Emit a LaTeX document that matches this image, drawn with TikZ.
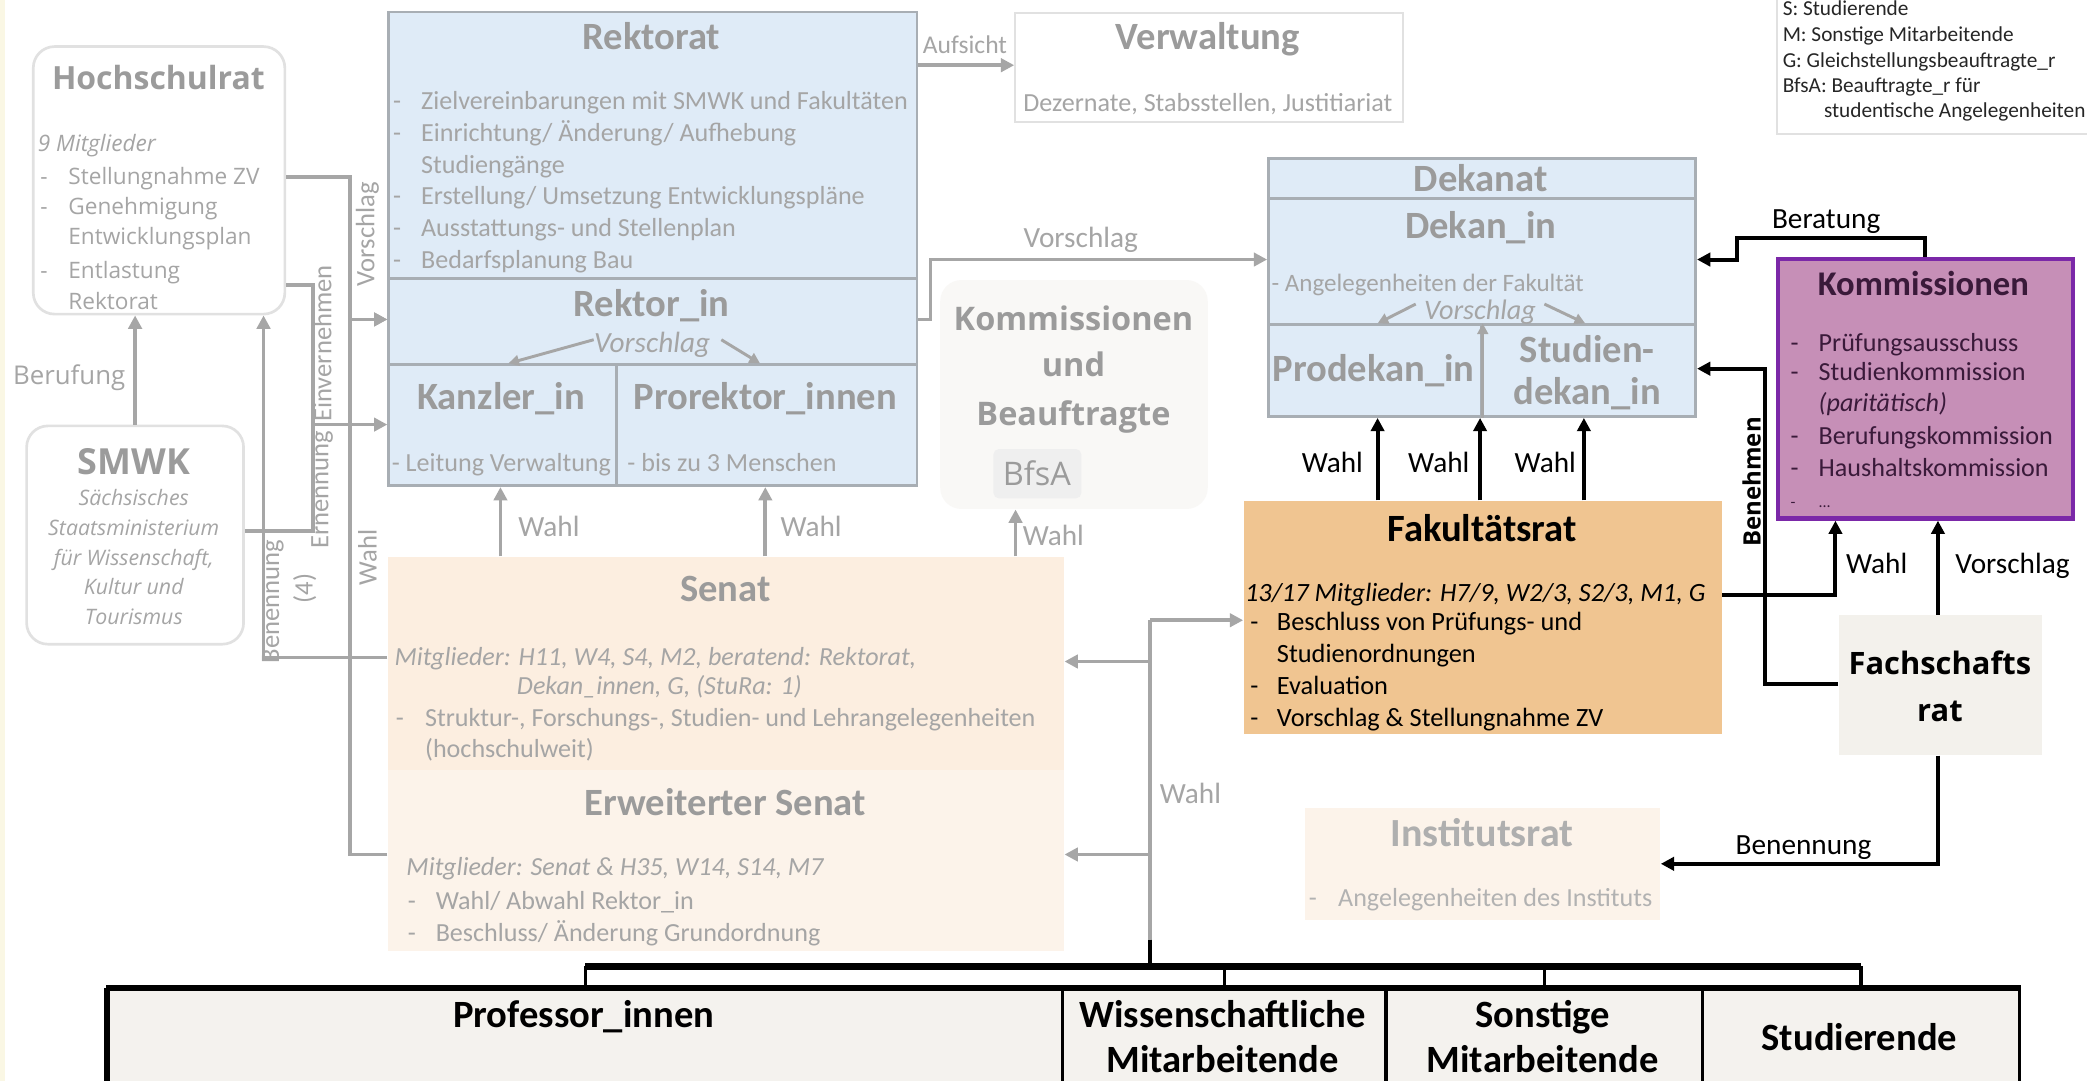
\documentclass[tikz,border=0pt]{standalone}
\usepackage{fontspec}
\setmainfont{Carlito}
\newfontfamily\osans{Open Sans}
\usetikzlibrary{arrows.meta}
\definecolor{lblue}{RGB}{223,235,247}
\definecolor{bord}{RGB}{168,174,180}
\definecolor{gline}{RGB}{166,166,166}
\definecolor{gtitle}{RGB}{155,155,155}
\definecolor{gtext}{RGB}{165,165,165}
\definecolor{senat}{RGB}{252,238,224}
\definecolor{esenat}{RGB}{252,243,234}
\definecolor{fak}{RGB}{240,197,145}
\definecolor{kfill}{RGB}{198,143,183}
\definecolor{kbord}{RGB}{123,40,168}
\definecolor{ktext}{RGB}{58,26,58}
\definecolor{fsrc}{RGB}{243,241,236}
\definecolor{tabc}{RGB}{244,242,238}
\definecolor{cream}{RGB}{250,247,228}
\definecolor{lgbord}{RGB}{225,225,225}
\definecolor{kubc}{RGB}{249,248,246}
\definecolor{bfsac}{RGB}{239,239,239}
\definecolor{legtext}{RGB}{38,38,38}
\newcommand\ttlfont{\bfseries\fontsize{14.5}{17}\selectfont}
\newcommand\bdfont{\fontsize{9.8}{12}\selectfont}
\newcommand\lblfont{\fontsize{11}{13}\selectfont}
\newcommand\rotfont{\fontsize{10}{12}\selectfont}
\newcommand\dsh[1]{\makebox[#1][l]{-}}
\begin{document}
\begin{tikzpicture}[x=0.5pt,y=-0.5pt,
  bx/.style={draw=bord, line width=1pt, fill=lblue, inner sep=0pt, anchor=north west},
  rbx/.style={draw=lgbord, line width=1pt, fill=white, rounded corners=8pt, inner sep=0pt, anchor=north west},
  plainbx/.style={inner sep=0pt, anchor=north west},
  ttl/.style={font=\ttlfont, text=gtitle, inner sep=0pt, anchor=base},
  bd/.style={font=\bdfont, text=gtext, inner sep=0pt, anchor=base west},
  lbl/.style={font=\lblfont, text=gtext, inner sep=0pt, anchor=base},
  blbl/.style={font=\lblfont, text=black, inner sep=0pt, anchor=base},
  rot/.style={font=\rotfont, text=gtext, inner sep=0pt, rotate=90, anchor=center},
  gl/.style={draw=gline, line width=1.4pt},
  garr/.style={draw=gline, line width=1.4pt, -{Triangle[length=5pt,width=5pt]}},
  garrs/.style={draw=gline, line width=1.1pt, -{Triangle[length=4pt,width=4pt]}},
  barr/.style={draw=black, line width=1.5pt, -{Triangle[length=5pt,width=5pt]}},
  bl/.style={draw=black, line width=1.3pt},
  busline/.style={draw=black, line width=2.6pt},
  cell/.style={draw=black, line width=1.3pt, fill=tabc, inner sep=0pt, anchor=north west},
  tbl/.style={font=\ttlfont, text=black, inner sep=0pt, anchor=base},
]
\useasboundingbox (0,0) rectangle (1568,812);
\fill[white] (0,0) rectangle (1568,812);
\fill[cream] (0,0) rectangle (4,812);

% ---------------- Hochschulrat ----------------
\node[rbx, minimum width=94.5pt, minimum height=100.5pt] (hsr) at (24,34) {};
\node[font=\osans\bfseries\fontsize{12}{14}\selectfont, text=gtitle, inner sep=0pt, anchor=base] (hsrt) at (119,67.5) {Hochschulrat};
\node[font=\osans\itshape\fontsize{8.5}{11}\selectfont, text=gtext, inner sep=0pt, anchor=base west] (hsr0) at (28,114) {9 Mitglieder};
\node[font=\osans\fontsize{8.5}{11}\selectfont, text=gtext, inner sep=0pt, anchor=base west] (hsr1) at (30,138.5) {\dsh{10.5pt}Stellungnahme ZV};
\node[font=\osans\fontsize{8.5}{11}\selectfont, text=gtext, inner sep=0pt, anchor=base west] (hsr2) at (30,161.5) {\dsh{10.5pt}Genehmigung};
\node[font=\osans\fontsize{8.5}{11}\selectfont, text=gtext, inner sep=0pt, anchor=base west] (hsr3) at (51,183.5) {Entwicklungsplan};
\node[font=\osans\fontsize{8.5}{11}\selectfont, text=gtext, inner sep=0pt, anchor=base west] (hsr4) at (30,209.5) {\dsh{10.5pt}Entlastung};
\node[font=\osans\fontsize{8.5}{11}\selectfont, text=gtext, inner sep=0pt, anchor=base west] (hsr5) at (51,232.5) {Rektorat};

% ---------------- SMWK ----------------
\node[rbx, minimum width=81.5pt, minimum height=82pt] (smwk) at (19,319) {};
\node[font=\osans\bfseries\fontsize{13.5}{15}\selectfont, text=gtitle, inner sep=0pt, anchor=base] (smwkt) at (100.5,356.5) {SMWK};
\node[font=\osans\itshape\fontsize{8}{10}\selectfont, text=gtext, inner sep=0pt, anchor=base] (sm1) at (100.5,380) {Sächsisches};
\node[font=\osans\itshape\fontsize{8}{10}\selectfont, text=gtext, inner sep=0pt, anchor=base] (sm2) at (100.5,402) {Staatsministerium};
\node[font=\osans\itshape\fontsize{8}{10}\selectfont, text=gtext, inner sep=0pt, anchor=base] (sm3) at (100.5,425) {für Wissenschaft,};
\node[font=\osans\itshape\fontsize{8}{10}\selectfont, text=gtext, inner sep=0pt, anchor=base] (sm4) at (100.5,447) {Kultur und};
\node[font=\osans\itshape\fontsize{8}{10}\selectfont, text=gtext, inner sep=0pt, anchor=base] (sm5) at (100.5,469) {Tourismus};
\node[font=\osans\fontsize{9.7}{12}\selectfont, text=gtext, inner sep=0pt, anchor=base] (beruf) at (52,289) {Berufung};

% ---------------- Rektorat ----------------
\node[bx, minimum width=198.5pt, minimum height=100pt] (rektorat) at (291,8) {};
\node[bx, minimum width=198.5pt, minimum height=32.5pt] (rektorin) at (291,208) {};
\node[bx, minimum width=85.5pt, minimum height=45.5pt] (kanzler) at (291,273) {};
\node[bx, minimum width=113pt, minimum height=45.5pt] (prorektor) at (462,273) {};
\node[ttl] (rkt) at (489.5,37) {Rektorat};
\node[bd] (rk1) at (295,82) {\dsh{10.5pt}Zielvereinbarungen mit SMWK und Fakultäten};
\node[bd] (rk2) at (295,106) {\dsh{10.5pt}Einrichtung/ Änderung/ Aufhebung};
\node[bd] (rk3) at (316,130) {Studiengänge};
\node[bd] (rk4) at (295,154) {\dsh{10.5pt}Erstellung/ Umsetzung Entwicklungspläne};
\node[bd] (rk5) at (295,178) {\dsh{10.5pt}Ausstattungs- und Stellenplan};
\node[bd] (rk6) at (295,202) {\dsh{10.5pt}Bedarfsplanung Bau};
\node[ttl] (rit) at (489.5,238) {Rektor\_in};
\node[lbl, font=\itshape\fontsize{11}{13}\selectfont] (rivor) at (490,265) {Vorschlag};
\node[ttl] (kat) at (376.5,308) {Kanzler\_in};
\node[ttl] (prt) at (575,308) {Prorektor\_innen};
\node[bd] (ka1) at (294,354) {- Leitung Verwaltung};
\node[bd] (pr1) at (471,354) {- bis zu 3 Menschen};
\draw[garrs] ([yshift=2pt]rivor.west) -- (kanzler.north -| 382,0);
\draw[garrs] ([yshift=2pt]rivor.east) ++(4pt,0) -- (prorektor.north -| 571,0);

% ---------------- Verwaltung ----------------
\node[plainbx, draw=lgbord, line width=0.8pt, fill=white, minimum width=145.5pt, minimum height=41pt] (verw) at (762,9) {};
\node[ttl] (vwt) at (907.5,37) {Verwaltung};
\node[bd, anchor=base] (vw1) at (907.5,84) {Dezernate, Stabsstellen, Justitiariat};
\node[bd, anchor=base, font=\fontsize{9.6}{12}\selectfont] (aufs) at (725,40) {Aufsicht};
\draw[garr] (rektorat.east |- 0,49) -- (verw.west |- 0,49);

% ---------------- Legend ----------------
\node[plainbx, draw=lgbord, line width=0.8pt, fill=white, minimum width=140pt, minimum height=60pt] (legend) at (1334,-20) {};
\node[font=\fontsize{8}{10}\selectfont, text=legtext, inner sep=0pt, anchor=base west] (lg1) at (1339,12) {S: Studierende};
\node[font=\fontsize{8}{10}\selectfont, text=legtext, inner sep=0pt, anchor=base west] (lg2) at (1339,31) {M: Sonstige Mitarbeitende};
\node[font=\fontsize{8}{10}\selectfont, text=legtext, inner sep=0pt, anchor=base west] (lg3) at (1339,50.5) {G: Gleichstellungsbeauftragte\_r};
\node[font=\fontsize{8}{10}\selectfont, text=legtext, inner sep=0pt, anchor=base west] (lg4) at (1339,69.5) {BfsA: Beauftragte\_r für};
\node[font=\fontsize{8}{10}\selectfont, text=legtext, inner sep=0pt, anchor=base west] (lg5) at (1370,88.5) {studentische Angelegenheiten};

% ---------------- Kommissionen und Beauftragte ----------------
\node[plainbx, fill=kubc, rounded corners=8pt, minimum width=100.5pt, minimum height=86pt] (kub) at (706,210) {};
\node[font=\osans\bfseries\fontsize{12.2}{14}\selectfont, text=gtitle, inner sep=0pt, anchor=base] (kub1) at (806.5,248.5) {Kommissionen};
\node[font=\osans\bfseries\fontsize{12.2}{14}\selectfont, text=gtitle, inner sep=0pt, anchor=base] (kub2) at (806.5,282.5) {und};
\node[font=\osans\bfseries\fontsize{12.2}{14}\selectfont, text=gtitle, inner sep=0pt, anchor=base] (kub3) at (806.5,319.5) {Beauftragte};
\node[plainbx, fill=bfsac, rounded corners=2pt, minimum width=33pt, minimum height=18.5pt] (bfsa) at (746,337) {};
\node[font=\osans\fontsize{12.2}{14}\selectfont, text=gtitle, inner sep=0pt, anchor=base] (bfsat) at (779,364.5) {BfsA};

% ---------------- Senat ----------------
\node[plainbx, fill=senat, minimum width=254pt, minimum height=80pt] (senat) at (291,418) {};
\node[plainbx, fill=esenat, minimum width=254pt, minimum height=68pt] (esenat) at (291,578) {};
\node[ttl] (set) at (545,452) {Senat};
\node[bd, font=\itshape\fontsize{9.8}{12}\selectfont] (se1) at (296,500) {Mitglieder: H11, W4, S4, M2, beratend: Rektorat,};
\node[bd, font=\itshape\fontsize{9.8}{12}\selectfont] (se2) at (388,522) {Dekan\_innen, G, (StuRa: 1)};
\node[bd] (se3) at (297,546) {\dsh{11pt}Struktur-, Forschungs-, Studien- und Lehrangelegenheiten};
\node[bd] (se4) at (319,569) {(hochschulweit)};
\node[ttl] (est) at (545,613) {Erweiterter Senat};
\node[bd, font=\itshape\fontsize{9.8}{12}\selectfont] (es1) at (305,658) {Mitglieder: Senat \& H35, W14, S14, M7};
\node[bd] (es2) at (306,683) {\dsh{10.5pt}Wahl/ Abwahl Rektor\_in};
\node[bd] (es3) at (306,707) {\dsh{10.5pt}Beschluss/ Änderung Grundordnung};

% ---------------- Dekanat ----------------
\node[bx, minimum width=160.5pt, minimum height=15pt] (dekanat) at (952,118) {};
\node[bx, minimum width=160.5pt, minimum height=47.5pt] (dekanin) at (952,148) {};
\node[bx, minimum width=80pt, minimum height=34.5pt] (prodekan) at (952,243) {};
\node[bx, minimum width=80.5pt, minimum height=34.5pt] (studdekan) at (1112,243) {};
\node[ttl] (dkt) at (1112.5,144) {Dekanat};
\node[ttl] (dit) at (1112.5,179) {Dekan\_in};
\node[bd, font=\fontsize{9.4}{12}\selectfont] (di1) at (955,219) {- Angelegenheiten der Fakultät};
\node[lbl, font=\itshape\fontsize{10.6}{13}\selectfont] (divor) at (1112,240) {Vorschlag};
\node[ttl] (pdt) at (1032,287) {Prodekan\_in};
\node[ttl] (sdt1) at (1192.5,272) {Studien-};
\node[ttl] (sdt2) at (1192.5,304) {dekan\_in};
\draw[garrs] ([xshift=-3pt,yshift=3pt]divor.west) -- (prodekan.north -| 1035,0);
\draw[garrs] ([xshift=3pt,yshift=3pt]divor.east) -- (studdekan.north -| 1191,0);
\draw[garrs] (prodekan.south east) -- (prodekan.north east);

% ---------------- Fakultaetsrat ----------------
\node[plainbx, fill=fak, minimum width=179.5pt, minimum height=87.5pt] (fak) at (934,376) {};
\node[tbl] (fkt) at (1113.5,407) {Fakultätsrat};
\node[font=\itshape\fontsize{9.9}{12}\selectfont, text=black, inner sep=0pt, anchor=base west] (fk1) at (935,452) {13/17 Mitglieder: H7/9, W2/3, S2/3, M1, G};
\node[font=\fontsize{9.9}{12}\selectfont, text=black, inner sep=0pt, anchor=base west] (fk2) at (939,474) {\dsh{10pt}Beschluss von Prüfungs- und};
\node[font=\fontsize{9.9}{12}\selectfont, text=black, inner sep=0pt, anchor=base west] (fk3) at (959,498) {Studienordnungen};
\node[font=\fontsize{9.9}{12}\selectfont, text=black, inner sep=0pt, anchor=base west] (fk4) at (939,522) {\dsh{10pt}Evaluation};
\node[font=\fontsize{9.9}{12}\selectfont, text=black, inner sep=0pt, anchor=base west] (fk5) at (939,546) {\dsh{10pt}Vorschlag \& Stellungnahme ZV};

% ---------------- Institutsrat ----------------
\node[plainbx, fill=esenat, minimum width=133.5pt, minimum height=42pt] (inst) at (980,607) {};
\node[ttl, font=\bfseries\fontsize{15}{17}\selectfont, text=gtitle!80] (int) at (1113.5,636) {Institutsrat};
\node[bd, text=gtext!85] (in1) at (983,681) {\dsh{11pt}Angelegenheiten des Instituts};

% ---------------- Kommissionen (purple) ----------------
\node[plainbx, fill=kfill, draw=kbord, line width=1.6pt, minimum width=111pt, minimum height=97.5pt] (kom) at (1334,193) {};
\node[font=\bfseries\fontsize{13}{15}\selectfont, text=ktext, inner sep=0pt, anchor=base] (kot) at (1445,222) {Kommissionen};
\node[font=\fontsize{9.8}{12}\selectfont, text=ktext, inner sep=0pt, anchor=base west] (ko1) at (1345,264) {\dsh{10.5pt}Prüfungsausschuss};
\node[font=\fontsize{9.8}{12}\selectfont, text=ktext, inner sep=0pt, anchor=base west] (ko2) at (1345,286) {\dsh{10.5pt}Studienkommission};
\node[font=\itshape\fontsize{9.8}{12}\selectfont, text=ktext, inner sep=0pt, anchor=base west] (ko3) at (1366,309) {(paritätisch)};
\node[font=\fontsize{9.8}{12}\selectfont, text=ktext, inner sep=0pt, anchor=base west] (ko4) at (1345,334) {\dsh{10.5pt}Berufungskommission};
\node[font=\fontsize{9.8}{12}\selectfont, text=ktext, inner sep=0pt, anchor=base west] (ko5) at (1345,358) {\dsh{10.5pt}Haushaltskommission};
\node[font=\fontsize{6}{7}\selectfont, text=ktext, inner sep=0pt, anchor=base west] (ko6) at (1345,381) {\dsh{10.5pt}...};

% ---------------- Fachschaftsrat ----------------
\node[plainbx, fill=fsrc, minimum width=76.5pt, minimum height=52.5pt] (fsr) at (1381,462) {};
\node[font=\osans\bfseries\fontsize{11.6}{14}\selectfont, text=black, inner sep=0pt, anchor=base] (fst1) at (1457.5,507) {Fachschafts};
\node[font=\osans\bfseries\fontsize{11.6}{14}\selectfont, text=black, inner sep=0pt, anchor=base] (fst2) at (1457.5,542) {rat};

% ---------------- Table ----------------
\node[cell, minimum width=358.5pt, minimum height=50pt] (prof) at (80,742) {};
\node[cell, minimum width=121.5pt, minimum height=50pt] (wiss) at (797,742) {};
\node[cell, minimum width=119pt, minimum height=50pt] (sonst) at (1040,742) {};
\node[cell, minimum width=119pt, minimum height=50pt] (stud) at (1278,742) {};
\draw[black, line width=2.2pt] (prof.north west) -- (stud.north east);
\draw[black, line width=2pt] (prof.north west) -- (prof.south west);
\node[tbl] (t1) at (438.5,772) {Professor\_innen};
\node[tbl] (t2) at (918.5,772) {Wissenschaftliche};
\node[tbl] (t3) at (918.5,806) {Mitarbeitende};
\node[tbl] (t4) at (1159,772) {Sonstige};
\node[tbl] (t5) at (1159,806) {Mitarbeitende};
\node[tbl] (t6) at (1397,789) {Studierende};

% ---------------- Gray connectors (left) ----------------
\draw[garr] (smwk.north) -- (smwk.north |- hsr.south);
\draw[garr] (hsr.east |- 0,133) -| (263,240) -- (rektorin.west |- 0,240);
\draw[garr] (hsr.east |- 0,214) -| (235,319) -- (kanzler.west |- 0,319);
\draw[gl] (smwk.east |- 0,399) -| (235,319);
\draw[garr] (esenat.west |- 0,642) -| (263,240) -- (rektorin.west |- 0,240);
\draw[garr] (senat.west |- 0,494) -| (hsr.south -| 198,0);
\node[rot] (lv) at (276,176) {Vorschlag};
\node[rot] (le) at (242,258) {Einvernehmen};
\node[rot] (ln) at (242,368) {Ernennung};
\node[rot] (lw) at (276,419) {Wahl};
\node[rot] (lb) at (205,452) {Benennung};
\node[rot] (l4) at (229,442) {(4)};

% Senat -> Kanzler / Prorektor / BfsA
\draw[garr] (senat.north -| 376,0) -- (kanzler.south -| 376,0);
\draw[garr] (senat.north -| 575,0) -- (prorektor.south -| 575,0);
\draw[garr] (senat.north -| 763,0) -- (kub.south -| 763,0);
\node[lbl, anchor=base west] (w1) at (389,403) {Wahl};
\node[lbl, anchor=base west] (w2) at (586,403) {Wahl};
\node[lbl, anchor=base west] (w3) at (768,410) {Wahl};

% Rektor_in -> Dekan_in
\draw[garr] (rektorin.east |- 0,240) -| (699,195) -- (dekanin.west |- 0,195);
\node[lbl] (rv) at (812,186) {Vorschlag};

% Gray Wahl bus
\coordinate (wt) at (864,466);
\coordinate (wb) at (864,726);
\coordinate (ws) at (864,497);
\coordinate (we) at (864,642);
\draw[gl] (wt) -- (wb);
\draw[bl] (864,706) -- (wb);
\draw[garr] (wt) -- (fak.west |- wt);
\draw[garr] (ws) -- (senat.east |- ws);
\draw[garr] (we) -- (esenat.east |- we);
\node[lbl, anchor=base west] (wl) at (871,604) {Wahl};

% Black bus to table
\draw[busline] (prof.north |- wb) -- (stud.north |- wb);
\draw[bl] (prof.north |- wb) -- (prof.north);
\draw[bl] (wiss.north |- wb) -- (wiss.north);
\draw[bl] (sonst.north |- wb) -- (sonst.north);
\draw[bl] (stud.north |- wb) -- (stud.north);

% ---------------- Black connectors (right) ----------------
\draw[barr] (fak.north -| 1035,0) -- (prodekan.south -| 1035,0);
\draw[barr] (fak.north -| 1112,0) -- (prodekan.south -| 1112,0);
\draw[barr] (fak.north -| 1190,0) -- (studdekan.south -| 1190,0);
\node[blbl] (dw1) at (1001,355) {Wahl};
\node[blbl] (dw2) at (1081,355) {Wahl};
\node[blbl] (dw3) at (1161,355) {Wahl};

\draw[barr] (kom.north -| 1446,0) |- (1305,179) |- (dekanin.east |- 0,195);
\node[blbl] (ber) at (1372,172) {Beratung};

\draw[barr] (fsr.west |- 0,514) -| (1326,277) -- (studdekan.east |- 0,277);
\node[font=\osans\bfseries\fontsize{9}{11}\selectfont, text=black, inner sep=0pt, rotate=90, anchor=center] (beh) at (1316,362) {Benehmen};

\draw[barr] (fak.east |- 0,447) -| (kom.south -| 1379,0);
\node[blbl] (kw) at (1410,431) {Wahl};
\draw[barr] (fsr.north -| 1456,0) -- (kom.south -| 1456,0);
\node[blbl] (kv) at (1512,431) {Vorschlag};
\draw[barr] (fsr.south -| 1456,0) |- (inst.east |- 0,649);
\node[blbl] (ben) at (1355,642) {Benennung};
\end{tikzpicture}
\end{document}
